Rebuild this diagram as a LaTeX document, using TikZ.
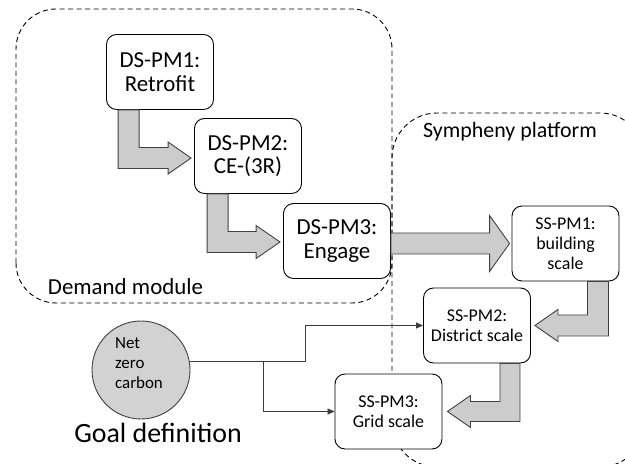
\documentclass[tikz,border=0pt]{standalone}
\usepackage{fontspec}
\setmainfont{Carlito}
\usepackage{tikz}
\usetikzlibrary{calc}
\usetikzlibrary{arrows.meta, positioning}

\definecolor{arrowfill}{RGB}{204,204,204}
\definecolor{arrowline}{RGB}{64,64,64}
\definecolor{goalfill}{RGB}{210,210,210}
\definecolor{linkgray}{RGB}{60,60,60}

\begin{document}
\begin{tikzpicture}[x=1bp,y=1bp,
	pmbox/.style={draw=black,line width=0.9bp,rounded corners=10bp,fill=white,minimum width=107bp,minimum height=75bp,align=center,inner sep=2bp,font=\fontsize{23}{23.5}\selectfont},
	ssbox/.style={pmbox,font=\fontsize{18}{20}\selectfont},
	module/.style={draw=black,line width=0.9bp,dash pattern=on 5bp off 3.5bp},
	blockarrow/.style={fill=arrowfill,draw=arrowline,line width=0.9bp},
	link/.style={draw=linkgray,line width=0.8bp,-{Triangle[length=7bp,width=6bp]}}]
	\useasboundingbox (0,0) rectangle (625,464);
	\clip (0,0) rectangle (625,464);
	
	% Modules
	\draw[module,rounded corners=40bp] (16,161) rectangle (392,455);
	\draw[module,rounded corners=45bp] (392,-3) rectangle (645,351);
	\node (demandlabel) at (125.5,177) [font=\fontsize{23}{25}\selectfont] {Demand module};
	\node (sympheny) at (510,332) [font=\fontsize{22}{24}\selectfont] {Sympheny platform};
	
	% Demand side
	\node (pm1) at (160,392) [pmbox] {DS-PM1:\\Retrofit};
	\node (pm2) at (248,308) [pmbox] {DS-PM2:\\CE-(3R)};
	\node (pm3) at (337,223) [pmbox] {DS-PM3:\\Engage};
	
	% Supply side
	\node (ss1) at (565.5,220.5) [ssbox] {SS-PM1:\\building\\scale};
	\node (ss2) at (477,138.5) [ssbox] {SS-PM2:\\District scale};
	\node (ss3) at (388.5,52.5) [ssbox] {SS-PM3:\\Grid scale};
	
	% Goal
	\node (netzero) at (141,94) [circle,draw=arrowline,line width=0.9bp,fill=goalfill,minimum size=98bp] {};
	\node (netzerotext) at (139,101) [align=left,font=\fontsize{17}{20}\selectfont] {Net\\zero\\carbon};
	\node (goal) at (158,31) [font=\fontsize{28}{30}\selectfont] {Goal definition};
	
	% Block arrows
	\draw[blockarrow] let \p1=([xshift=12bp]pm1.south west), \p2=([xshift=-3bp,yshift=-2bp]pm2.west) in
		(\x1,\y1) -- (\x1+21bp,\y1) -- (\x1+21bp,\y2+10.5bp) -- (\x2-23bp,\y2+10.5bp) -- (\x2-23bp,\y2+16bp) -- (\p2)
		-- (\x2-23bp,\y2-16bp) -- (\x2-23bp,\y2-10.5bp) -- (\x1,\y2-10.5bp) -- cycle;
	\draw[blockarrow] let \p1=([xshift=13bp]pm2.south west), \p2=([xshift=-3bp,yshift=-1bp]pm3.west) in
		(\x1,\y1) -- (\x1+21bp,\y1) -- (\x1+21bp,\y2+10.5bp) -- (\x2-24bp,\y2+10.5bp) -- (\x2-24bp,\y2+16.5bp) -- (\p2)
		-- (\x2-24bp,\y2-16.5bp) -- (\x2-24bp,\y2-10.5bp) -- (\x1,\y2-10.5bp) -- cycle;
	\draw[blockarrow] let \p1=(pm3.east), \p2=([xshift=-2bp]ss1.west) in
		(\x1,\y2+10.5bp) -- (\x2-20bp,\y2+10.5bp) -- (\x2-20bp,\y2+28bp) -- (\p2)
		-- (\x2-20bp,\y2-28bp) -- (\x2-20bp,\y2-10.5bp) -- (\x1,\y2-10.5bp) -- cycle;
	\draw[blockarrow] let \p1=([xshift=-11bp]ss1.south east), \p2=([xshift=4bp]ss2.east) in
		(\x1,\y1) -- (\x1-21bp,\y1) -- (\x1-21bp,\y2+10.5bp) -- (\x2+23bp,\y2+10.5bp) -- (\x2+23bp,\y2+16bp) -- (\p2)
		-- (\x2+23bp,\y2-16bp) -- (\x2+23bp,\y2-10.5bp) -- (\x1,\y2-10.5bp) -- cycle;
	\draw[blockarrow] let \p1=([xshift=-11bp]ss2.south east), \p2=([xshift=5bp]ss3.east) in
		(\x1,\y1) -- (\x1-20bp,\y1) -- (\x1-20bp,\y2+10bp) -- (\x2+23bp,\y2+10bp) -- (\x2+23bp,\y2+16bp) -- (\p2)
		-- (\x2+23bp,\y2-16bp) -- (\x2+23bp,\y2-10bp) -- (\x1,\y2-10bp) -- cycle;
	
	% Goal links
	\draw[link] (netzero.10) -- ++(116,0) |- (ss2.west);
	\draw[link] (netzero.10) -- ++(74,0) |- (ss3.west);
\end{tikzpicture}
\end{document}
